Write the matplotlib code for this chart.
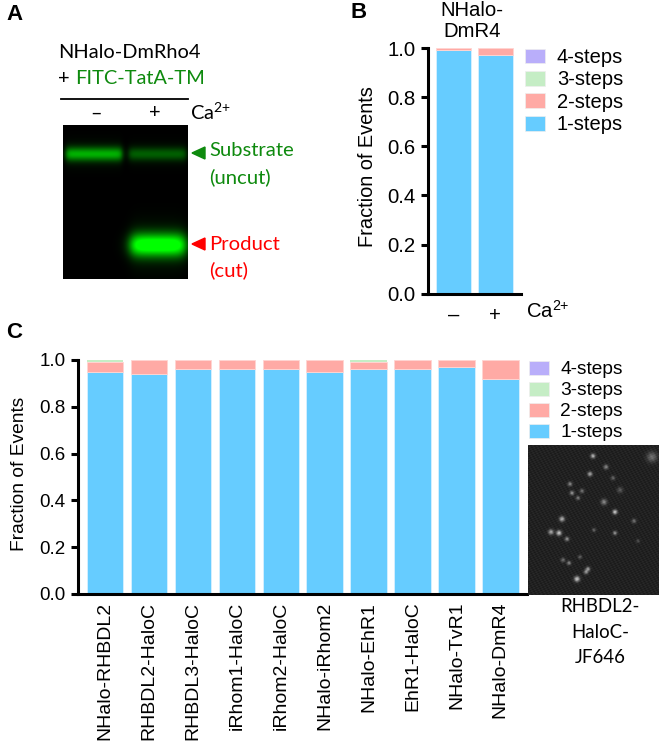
import numpy as np
import matplotlib
matplotlib.use('Agg')
from matplotlib import pyplot as plt
from matplotlib.patches import Patch, Polygon

plt.rcParams['font.family'] = ['Liberation Sans', 'DejaVu Sans']
plt.rcParams['mathtext.default'] = 'regular'

# data
step_labels = ['4-steps', '3-steps', '2-steps', '1-steps']
step_colors = ['#B9AEFA', '#C5EDC5', '#FFAAA5', '#66CCFF']
edge_color = '#D8F0FF'

b_labels = ['–', '+']
b_one = [0.99, 0.97]
b_two = [0.01, 0.03]

c_labels = ['NHalo-RHBDL2', 'RHBDL2-HaloC', 'RHBDL3-HaloC', 'iRhom1-HaloC', 'iRhom2-HaloC',
            'NHalo-iRhom2', 'NHalo-EhR1', 'EhR1-HaloC', 'NHalo-TvR1', 'NHalo-DmR4']
c_one = [0.95, 0.94, 0.96, 0.96, 0.96, 0.95, 0.96, 0.96, 0.97, 0.92]
c_two = [0.04, 0.06, 0.04, 0.04, 0.04, 0.05, 0.03, 0.04, 0.03, 0.08]
c_three = [0.01, 0, 0, 0, 0, 0, 0.01, 0, 0, 0]

# gel bands: x0, x1, edge softness, y centre, y sigma, brightness (figure pixels)
gel_bands = [(66, 122, 3.0, 154, 4.8, 0.62),
             (129, 186, 3.0, 154, 4.6, 0.33),
             (131, 185, 6.5, 245, 8.0, 1.08)]

# bright spots in the micrograph: x, y, size, brightness (figure pixels)
spots = [(593, 456, 1.6, .65), (652, 457, 3.5, .35), (606, 467, 1.6, .45), (590, 474, 1.6, .6),
         (613, 478, 1.5, .3), (570, 484, 1.5, .45), (572, 493, 1.5, .5), (582, 491, 1.5, .35),
         (578, 498, 1.4, .4), (620, 490, 2.0, .25), (604, 502, 2.0, .45), (615, 512, 1.6, .75),
         (562, 519, 1.8, .65), (634, 521, 1.5, .35), (551, 532, 1.8, .6), (559, 533, 1.8, .75),
         (567, 539, 1.5, .5), (594, 530, 1.3, .3), (615, 533, 1.4, .5), (638, 541, 1.3, .2),
         (580, 557, 1.3, .3), (563, 560, 1.5, .35), (569, 563, 1.4, .45), (588, 569, 1.5, .55),
         (586, 572, 1.5, .5), (577, 579, 1.9, .75)]


def px_axes(fig, x0, y0, x1, y1):
    return fig.add_axes([x0 / 663, 1 - y1 / 744, (x1 - x0) / 663, (y1 - y0) / 744])


def style_axes(ax, size):
    ax.spines['top'].set_visible(False)
    ax.spines['right'].set_visible(False)
    ax.spines['left'].set_linewidth(2.2)
    ax.spines['bottom'].set_linewidth(2.2)
    ax.set_ylim(0, 1)
    ax.set_yticks([0, 0.2, 0.4, 0.6, 0.8, 1.0])
    ax.tick_params(axis='y', width=2.2, length=5, labelsize=size, pad=4)
    ax.tick_params(axis='x', length=0)


def stacked(ax, one, two, three, width):
    pos = np.arange(len(one))
    one = np.array(one)
    two = np.array(two)
    ax.bar(pos, one, width, color=step_colors[3], edgecolor=edge_color, linewidth=0.6)
    ax.bar(pos, two, width, bottom=one, color=step_colors[2], edgecolor='#FFD5D2', linewidth=0.6)
    if three is not None:
        three = np.array(three)
        ax.bar(pos, three, width, bottom=one + two, color=step_colors[1], linewidth=0)
    return pos


def step_legend(ax, x, y, size, spacing, hlen):
    handles = [Patch(facecolor=c, edgecolor='#EEEEEE', linewidth=0.5) for c in step_colors]
    ax.legend(handles, step_labels, loc='upper left', bbox_to_anchor=(x, y),
              bbox_transform=fig.transFigure, frameon=False, fontsize=size,
              handlelength=hlen, handleheight=0.75, handletextpad=0.58,
              labelspacing=spacing, borderpad=0, borderaxespad=0)


fig = plt.figure(figsize=(6.63, 7.44), dpi=100)

# overlay in figure pixels for labels
over = fig.add_axes([0, 0, 1, 1])
over.set_xlim(0, 663)
over.set_ylim(744, 0)
over.axis('off')

green = '#0E8A0E'
red = '#FF0000'
calibri = ['Lato', 'DejaVu Sans']

over.text(6, 14, 'A', fontsize=16, fontweight='bold', va='center')
over.text(350, 13, 'B', fontsize=16, fontweight='bold', va='center')
over.text(6, 333, 'C', fontsize=16, fontweight='bold', va='center')

over.text(58, 52, 'NHalo-DmRho4', fontsize=14.4, family=calibri, va='center')
over.text(58, 79, '+', fontsize=14.4, family=calibri, va='center')
over.text(75, 79, 'FITC-TatA-TM', fontsize=14.4, family=calibri, color=green, va='center')
over.plot([61, 188], [98.5, 98.5], color='black', lw=1.3)
over.text(96, 113, '–', fontsize=14.4, family=calibri, ha='center', va='center')
over.text(155, 113, '+', fontsize=14.4, family=calibri, ha='center', va='center')
over.text(190, 112, 'Ca$^{2{+}}$', fontsize=14.4, family=calibri, va='center')
over.add_patch(Polygon([[192, 153], [205, 147], [205, 159]], color=green))
over.text(209, 151, 'Substrate', fontsize=14.6, family=calibri, color=green, va='center')
over.text(209, 177, '(uncut)', fontsize=14.6, family=calibri, color=green, va='center')
over.add_patch(Polygon([[192, 244], [205, 238], [205, 250]], color=red))
over.text(209, 244, 'Product', fontsize=14.6, family=calibri, color=red, va='center')
over.text(209, 270, '(cut)', fontsize=14.6, family=calibri, color=red, va='center')

# gel
gel_ax = px_axes(fig, 63, 125, 188, 279)
xx, yy = np.meshgrid(np.arange(63, 188) + 0.5, np.arange(125, 279) + 0.5)
glow = np.zeros(xx.shape)
for x0, x1, soft, yc, sy, level in gel_bands:
    across = 0.5 * (np.tanh((xx - x0) / soft) - np.tanh((xx - x1) / soft))
    glow += level * across * np.exp(-0.5 * ((yy - yc) / sy) ** 2)
    glow += 0.12 * level * across * np.exp(-0.5 * ((yy - yc) / (sy * 2.0)) ** 2)
rgb = np.zeros(xx.shape + (3,))
rgb[..., 1] = np.clip(glow, 0, 1)
gel_ax.imshow(rgb, aspect='auto', interpolation='bilinear')
gel_ax.axis('off')

# panel B
ax_b = px_axes(fig, 427.7, 48, 521, 293.7)
pos = stacked(ax_b, b_one, b_two, None, 0.83)
ax_b.set_xlim(-0.607, 1.614)
style_axes(ax_b, 14.7)
ax_b.set_ylabel('Fraction of Events', fontsize=14.4)
ax_b.yaxis.set_label_coords(-0.543, 0.516)
ax_b.set_xticks(pos)
ax_b.set_xticklabels(b_labels, fontsize=14.6)
ax_b.tick_params(axis='x', pad=9)
over.text(526, 311, 'Ca$^{2{+}}$', fontsize=14.6, va='center')
over.text(472, 21, 'NHalo-\nDmR4', fontsize=14.6, ha='center', va='center', linespacing=1.15)
step_legend(ax_b, 525 / 663, 1 - 48 / 744, 14.5, 0.17, 1.0)

# panel C
ax_c = px_axes(fig, 78, 360, 526.7, 594)
pos = stacked(ax_c, c_one, c_two, c_three, 0.83)
ax_c.set_xlim(-0.618, 9.6)
style_axes(ax_c, 13.5)
ax_c.set_ylabel('Fraction of Events', fontsize=13.8)
ax_c.yaxis.set_label_coords(-0.1115, 0.515)
ax_c.set_xticks(pos)
ax_c.set_xticklabels(c_labels, rotation=90, fontsize=14)
ax_c.tick_params(axis='x', pad=5.5)
step_legend(ax_c, 529.3 / 663, 1 - 360.7 / 744, 13.8, 0.17, 1.03)

# micrograph
mic_ax = px_axes(fig, 528, 445, 659, 595)
mx, my = np.meshgrid(np.arange(528, 659) + 0.5, np.arange(445, 595) + 0.5)
# grain is only a texture, made of crossed waves
grain = np.sin(mx * 1.73 + my * 2.31) * np.sin(mx * 2.93 - my * 1.37)
mic = 0.13 + 0.035 * grain
for sx, sy, size, level in spots:
    mic += 0.85 * level * np.exp(-0.5 * ((mx - sx) ** 2 + (my - sy) ** 2) / size ** 2)
mic_ax.imshow(mic, cmap='gray', vmin=0, vmax=1, aspect='auto', interpolation='bilinear')
mic_ax.axis('off')

over.text(600, 632, 'RHBDL2-\nHaloC-\nJF646', fontsize=13.4, family=calibri, ha='center',
          va='center', linespacing=1.6)

fig.savefig('out.png', dpi=100)
